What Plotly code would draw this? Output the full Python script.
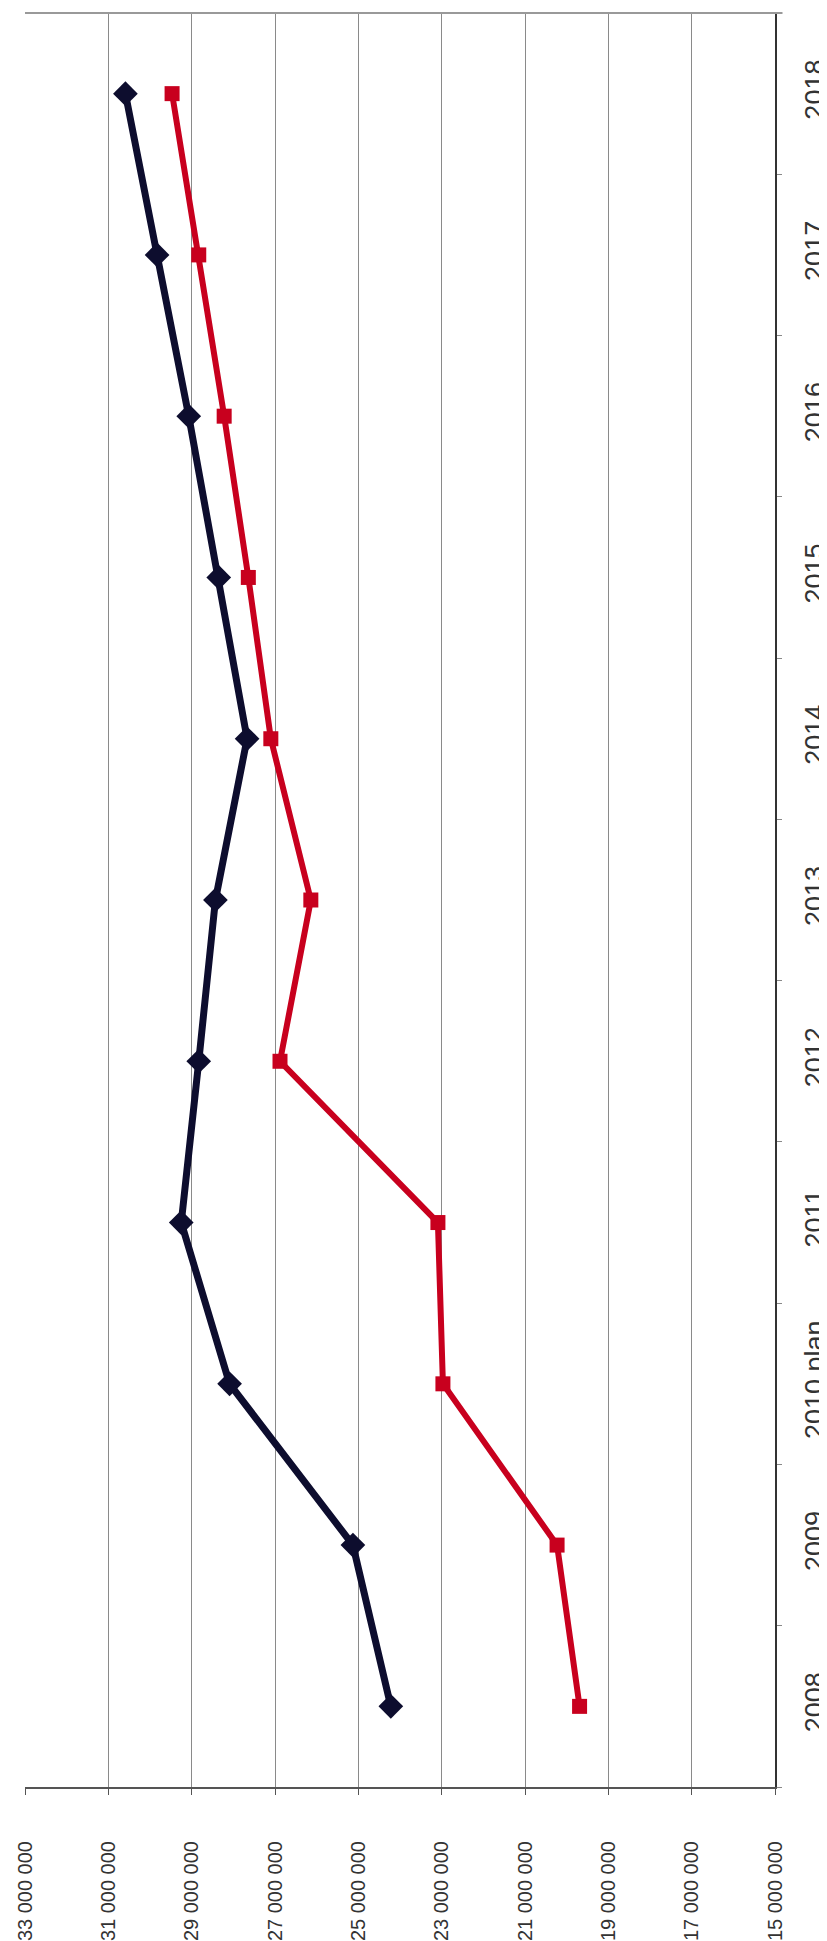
import plotly.graph_objects as go

categories = ["2008", "2009", "2010 plan", "2011", "2012", "2013", "2014", "2015", "2016", "2017", "2018"]
series_black = [24220000, 25130000, 28090000, 29250000, 28830000, 28430000, 27670000, 28350000, 29070000, 29830000, 30590000]
series_red = [19690000, 20230000, 22970000, 23090000, 26880000, 26140000, 27100000, 27640000, 28220000, 28830000, 29470000]
value_ticks = [33000000, 31000000, 29000000, 27000000, 25000000, 23000000, 21000000, 19000000, 17000000, 15000000]
value_tick_labels = ["33 000 000", "31 000 000", "29 000 000", "27 000 000", "25 000 000",
                     "23 000 000", "21 000 000", "19 000 000", "17 000 000", "15 000 000"]

FONT = "Liberation Sans, Arial, sans-serif"

fig = go.Figure()
fig.add_trace(go.Scatter(
    x=series_black, y=categories, mode="lines+markers",
    line=dict(color="#0d0d2e", width=7),
    marker=dict(symbol="diamond", size=19, color="#0d0d2e"),
    showlegend=False,
))
fig.add_trace(go.Scatter(
    x=series_red, y=categories, mode="lines+markers",
    line=dict(color="#c8001e", width=6),
    marker=dict(symbol="square", size=15, color="#c8001e"),
    showlegend=False,
))

fig.update_layout(
    width=827, height=1941,
    margin=dict(l=17, r=51, t=5, b=162),
    paper_bgcolor="white", plot_bgcolor="white",
    font=dict(family=FONT, color="#333333"),
    xaxis=dict(
        range=[33000000, 15000000],
        tickvals=value_ticks, ticktext=value_tick_labels,
        tickangle=-90, tickfont=dict(size=20, color="#333333"),
        showgrid=True, gridcolor="#8a8a8a", gridwidth=1.2,
        showline=True, linecolor="#555555", linewidth=2,
        ticks="outside", ticklen=6, tickcolor="#555555",
        ticklabelstandoff=38, zeroline=False,
    ),
    yaxis=dict(
        type="category", categoryorder="array", categoryarray=categories,
        range=[-0.5, 10.5], side="right",
        tickangle=-90, tickfont=dict(size=27, color="#333333"),
        showgrid=False,
        showline=True, linecolor="#333333", linewidth=2,
        ticks="outside", ticklen=5, tickcolor="#888888", tickson="boundaries",
        ticklabelstandoff=15, zeroline=False,
    ),
    shapes=[dict(type="line", xref="paper", yref="paper", x0=0, x1=1.01, y0=1, y1=1,
                 line=dict(color="#999999", width=2))],
)

fig.write_html("out.html")
